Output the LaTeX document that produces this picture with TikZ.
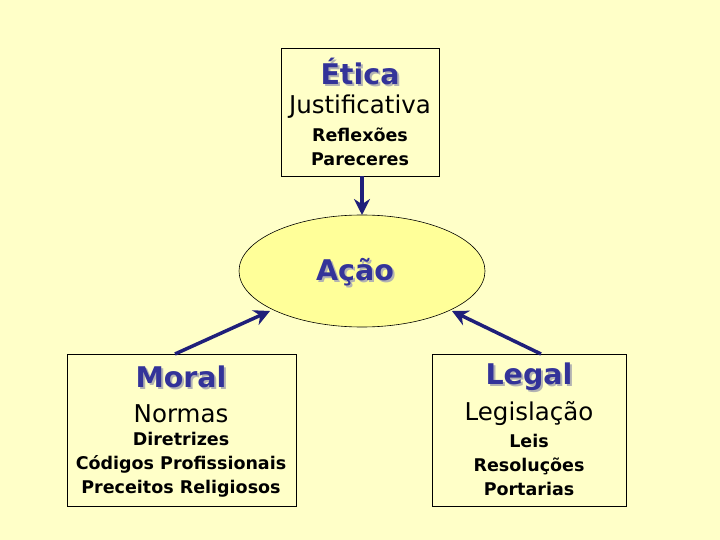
\documentclass[tikz,border=0pt]{standalone}
\usepackage{fontspec}
\usetikzlibrary{arrows.meta}
\setmainfont{DejaVu Sans}
\definecolor{bg}{HTML}{FFFFC8}
\definecolor{ell}{HTML}{FFFF99}
\definecolor{arr}{HTML}{1F1F7A}
\definecolor{ttl}{HTML}{333399}
\begin{document}
\begin{tikzpicture}[x=1pt,y=-1pt,
  box/.style={draw=black,fill=bg,line width=0.6pt},
  ttlstyle/.style={font=\fontsize{28.5}{32}\selectfont\bfseries,text=ttl},
  shd/.style={font=\fontsize{28.5}{32}\selectfont\bfseries,text=gray!60},
  sub/.style={font=\fontsize{24.5}{28}\selectfont},
  small/.style={font=\fontsize{17.5}{24}\selectfont\bfseries,align=center},
  con/.style={draw=arr,line width=3.5pt,-{Stealth[length=16pt,width=16pt]}}]
\fill[bg] (0,0) rectangle (720,540);
\useasboundingbox (0,0) rectangle (720,540);
\draw[box] (281,48) rectangle (439,176);
\node[shd] at (362,73) {Ética};
\node[ttlstyle] (eti) at (360,71) {Ética};
\node[sub] (jus) at (360,107) {Justificativa};
\node[small] (ref) at (360,147) {Reflexões\\Pareceres};
\draw[line width=0.6pt,fill=ell] (362,271) ellipse [x radius=123, y radius=56];
\node[shd] at (357,274) {Ação};
\node[ttlstyle] (acao) at (355,272) {Ação};
\draw[box] (67,354) rectangle (296,506);
\node[shd] at (183,379) {Moral};
\node[ttlstyle] (mor) at (181,377) {Moral};
\node[sub] (nor) at (181,414) {Normas};
\node[small] (dir) at (181,465) {Diretrizes\\Códigos Profissionais\\Preceitos Religiosos};
\draw[box] (432,354) rectangle (626,506);
\node[shd] at (531,379) {Legal};
\node[ttlstyle] (leg) at (529,377) {Legal};
\node[sub] (lgs) at (529,414) {Legislação};
\node[small] (lei) at (529,465) {Leis\\Resoluções\\Portarias};
\coordinate (a1) at (362,176);
\coordinate (a2) at (362,215);
\coordinate (m1) at (175,354);
\coordinate (m2) at (270,311);
\coordinate (l1) at (541,354);
\coordinate (l2) at (452,311);
\draw[con] (a1) -- (a2);
\draw[con] (m1) -- (m2);
\draw[con] (l1) -- (l2);
\end{tikzpicture}
\end{document}
